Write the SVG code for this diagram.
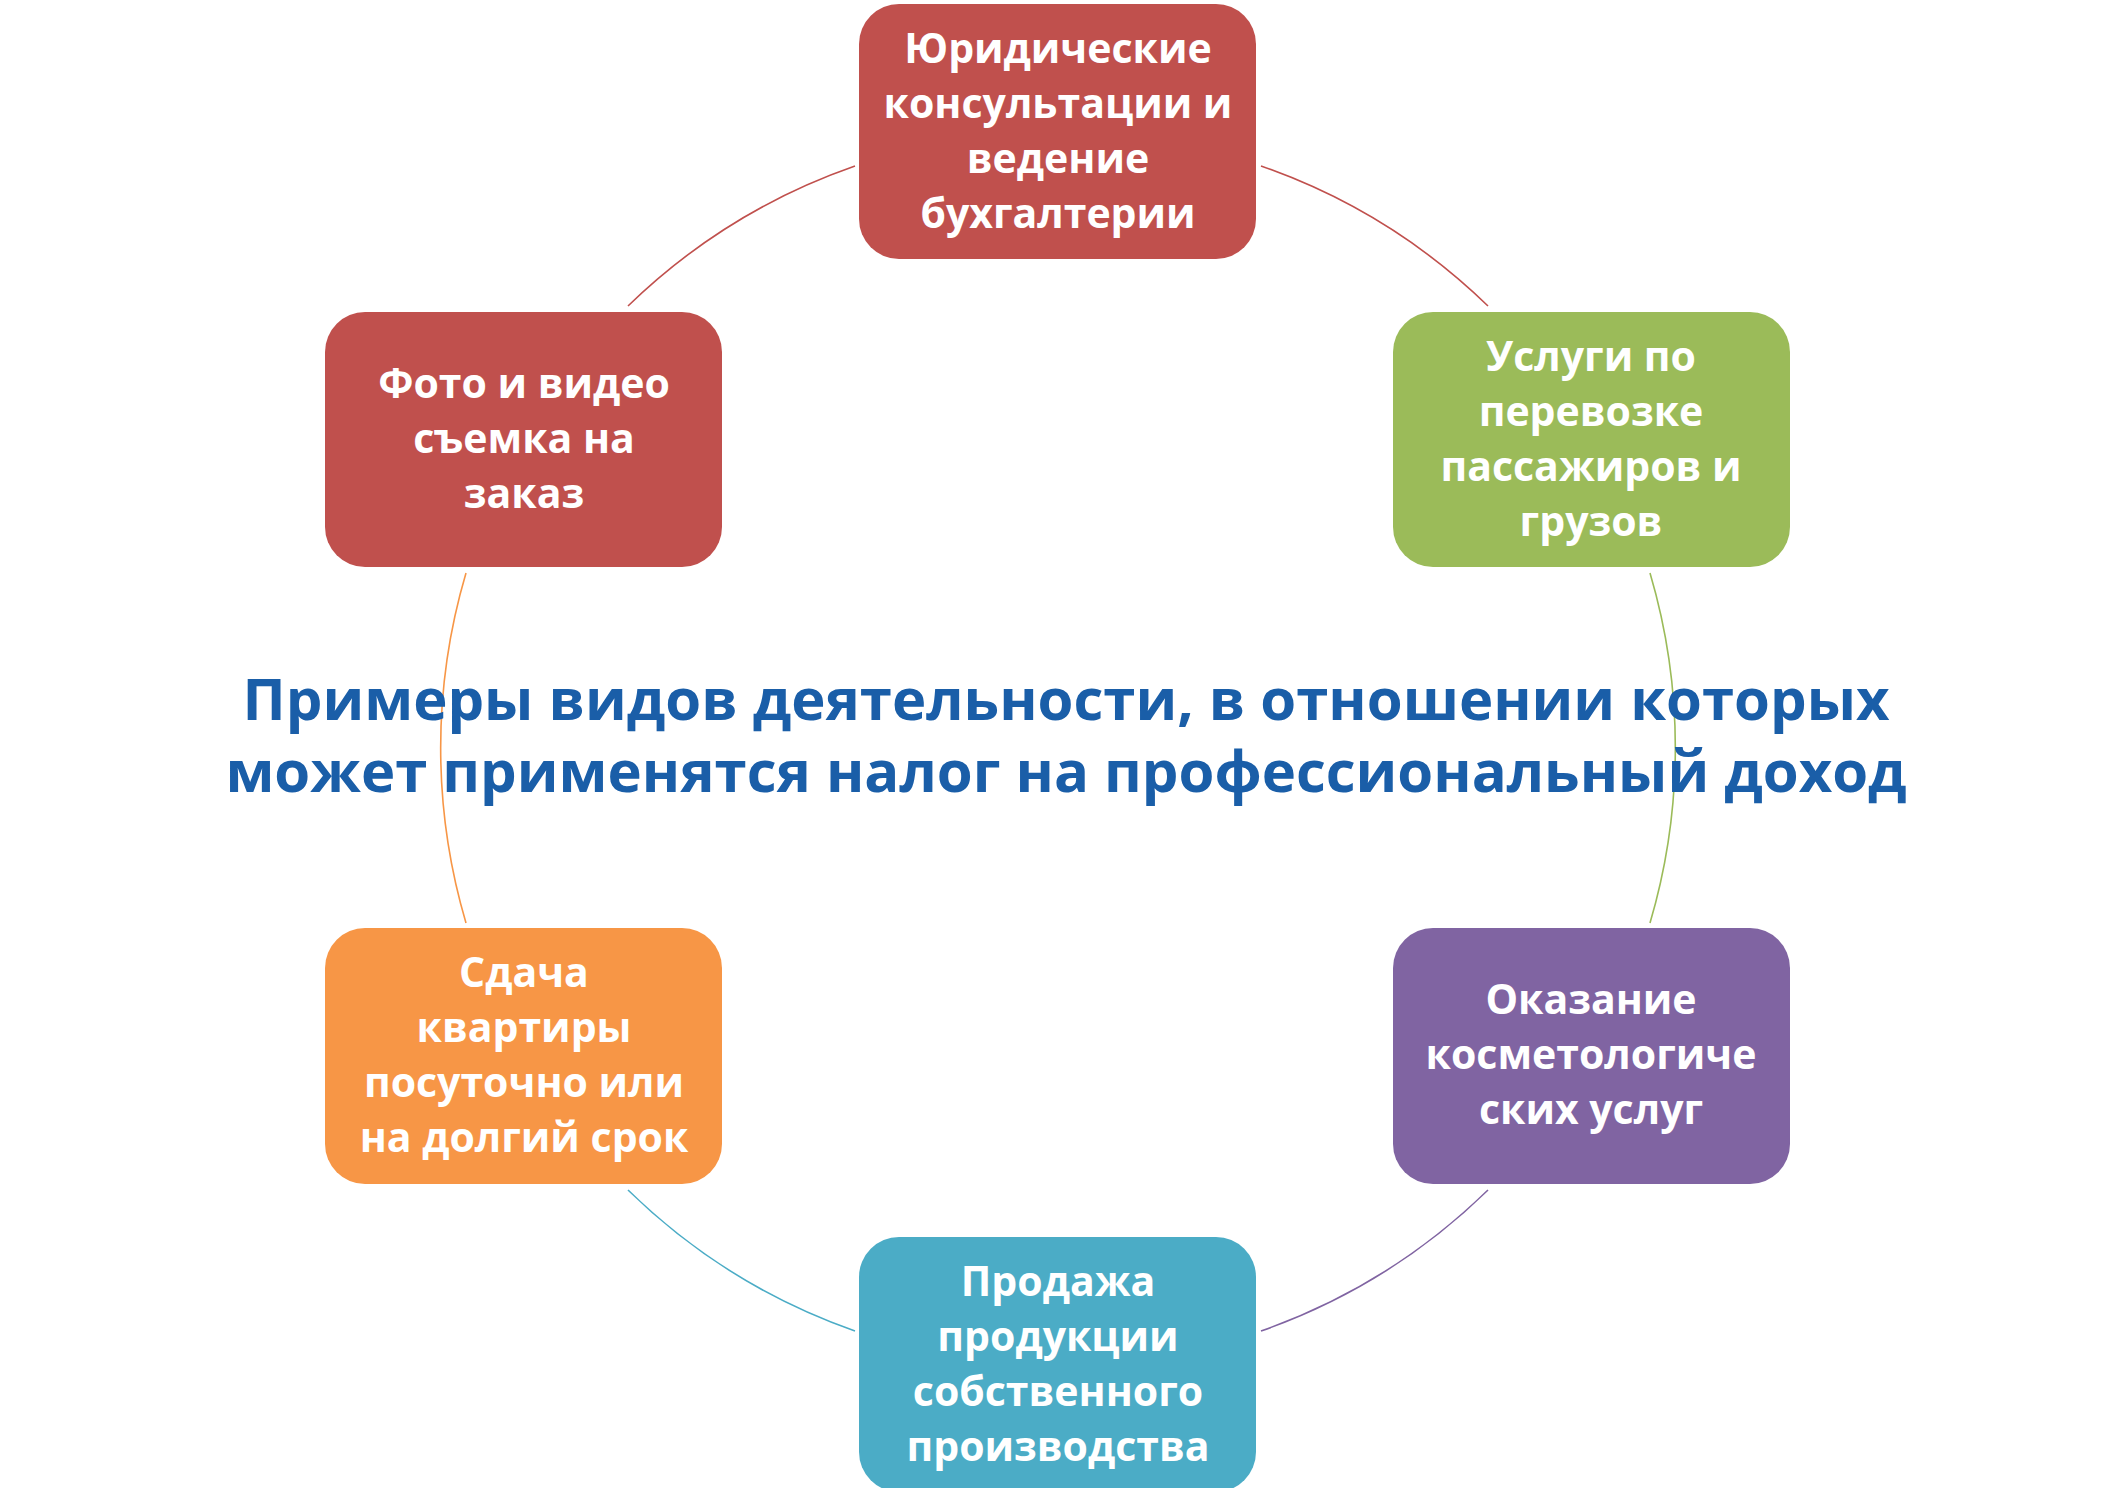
<svg xmlns="http://www.w3.org/2000/svg" width="2104" height="1488" viewBox="0 0 2104 1488">
<style>
.box{stroke:none}
.t{font-family:"Open Sans","Liberation Sans",sans-serif;font-weight:bold;font-size:41px;fill:#fff;text-anchor:middle}
.title{font-family:"Open Sans","Liberation Sans",sans-serif;font-weight:bold;font-size:58px;fill:#1a5ea8;text-anchor:middle}
.arc{fill:none;stroke-width:1.6}
</style>
<rect width="2104" height="1488" fill="#fff"/>
<g id="connectors">
<path class="arc" stroke="#c0504d" d="M1261,166 A617,617 0 0 1 1488,306"/>
<path class="arc" stroke="#9bbb59" d="M1650,573 A617,617 0 0 1 1650,923"/>
<path class="arc" stroke="#8064a2" d="M1488,1190 A617,617 0 0 1 1261,1331"/>
<path class="arc" stroke="#4bacc6" d="M855,1331 A617,617 0 0 1 628,1190"/>
<path class="arc" stroke="#f79646" d="M466,923 A617,617 0 0 1 466,573"/>
<path class="arc" stroke="#c0504d" d="M628,306 A617,617 0 0 1 855,166"/>
</g>
<g id="title">
<text class="title" x="1066" y="720">Примеры видов деятельности, в отношении которых</text>
<text class="title" x="1066" y="792">может применятся налог на профессиональный доход</text>
</g>
<g id="n1">
<rect class="box" x="859" y="4" width="397" height="255" rx="40" fill="#c0504d"/>
<text class="t" x="1058" y="63">Юридические</text>
<text class="t" x="1058" y="118">консультации и</text>
<text class="t" x="1058" y="173">ведение</text>
<text class="t" x="1058" y="228">бухгалтерии</text>
</g>
<g id="n2">
<rect class="box" x="1393" y="312" width="397" height="255" rx="40" fill="#9bbb59"/>
<text class="t" x="1591" y="371">Услуги по</text>
<text class="t" x="1591" y="426">перевозке</text>
<text class="t" x="1591" y="481">пассажиров и</text>
<text class="t" x="1591" y="536">грузов</text>
</g>
<g id="n3">
<rect class="box" x="1393" y="928" width="397" height="256" rx="40" fill="#8064a2"/>
<text class="t" x="1591" y="1014">Оказание</text>
<text class="t" x="1591" y="1069">косметологиче</text>
<text class="t" x="1591" y="1124">ских услуг</text>
</g>
<g id="n4">
<rect class="box" x="859" y="1237" width="397" height="255" rx="40" fill="#4bacc6"/>
<text class="t" x="1058" y="1296">Продажа</text>
<text class="t" x="1058" y="1351">продукции</text>
<text class="t" x="1058" y="1406">собственного</text>
<text class="t" x="1058" y="1461">производства</text>
</g>
<g id="n5">
<rect class="box" x="325" y="928" width="397" height="256" rx="40" fill="#f79646"/>
<text class="t" x="524" y="987">Сдача</text>
<text class="t" x="524" y="1042">квартиры</text>
<text class="t" x="524" y="1097">посуточно или</text>
<text class="t" x="524" y="1152">на долгий срок</text>
</g>
<g id="n6">
<rect class="box" x="325" y="312" width="397" height="255" rx="40" fill="#c0504d"/>
<text class="t" x="524" y="398">Фото и видео</text>
<text class="t" x="524" y="453">съемка на</text>
<text class="t" x="524" y="508">заказ</text>
</g>
</svg>
